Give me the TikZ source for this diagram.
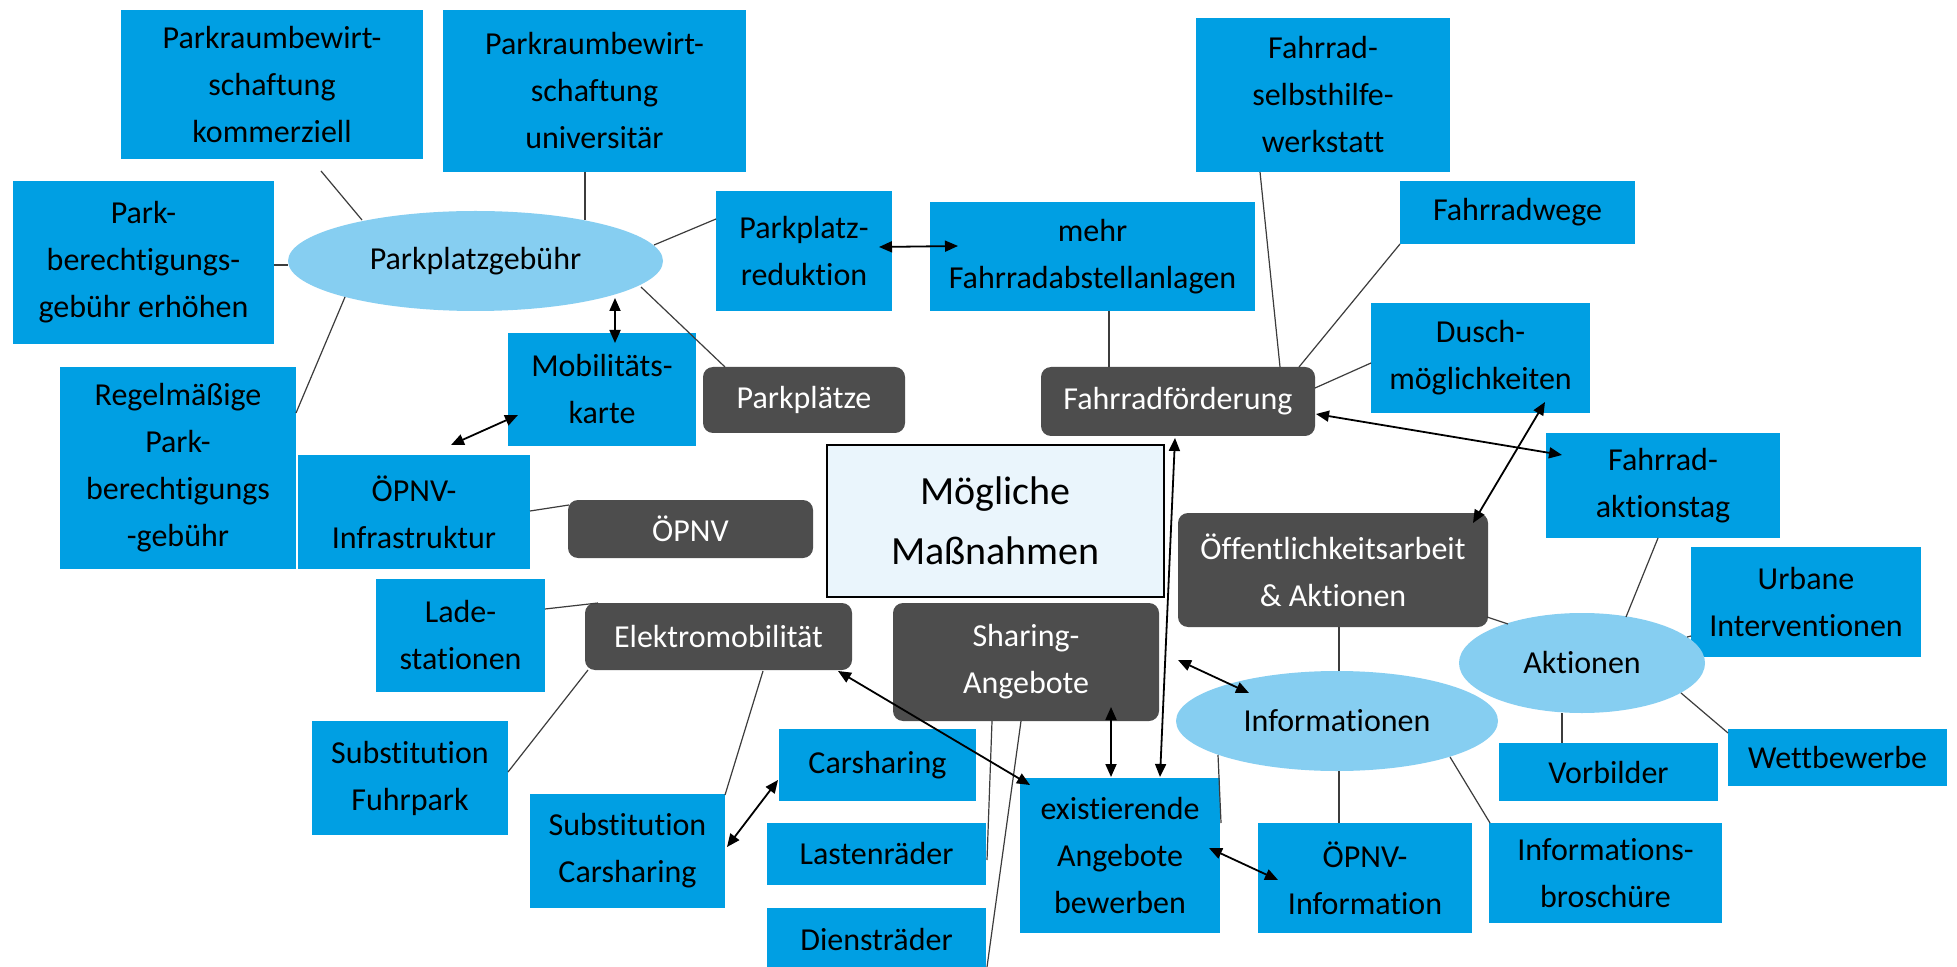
\documentclass[tikz,border=0pt]{standalone}
\usepackage{fontspec}
\setmainfont[Ligatures={NoCommon}]{Carlito}
\usetikzlibrary{shapes.geometric,arrows.meta}
\definecolor{bblue}{RGB}{0,159,227}
\definecolor{dgray}{RGB}{77,77,77}
\definecolor{lblue}{RGB}{134,206,241}
\definecolor{pale}{RGB}{234,245,252}
\definecolor{lgray}{RGB}{60,60,60}
\tikzset{
  x=0.5pt,y=-0.5pt,
  txt/.style={align=center,font=\fontsize{16}{23.5}\selectfont,inner sep=0pt},
  bbox/.style={txt,rectangle,fill=bblue,text=black},
  dbox/.style={txt,rectangle,rounded corners=5pt,fill=dgray,text=white},
  ell/.style={txt,ellipse,fill=lblue,text=black},
  mbox/.style={txt,rectangle,fill=pale,draw=black,line width=0.8pt,font=\fontsize{20}{30}\selectfont},
  sz/.style 2 args={minimum width=#1pt,minimum height=#2pt},
  conn/.style={draw=lgray,line width=0.6pt},
  biarrow/.style={draw=black,line width=0.9pt,{Triangle[length=6.5pt,width=5.5pt]}-{Triangle[length=6.5pt,width=5.5pt]}}
}
\begin{document}
\begin{tikzpicture}
\useasboundingbox (0,0) rectangle (1957,967);
\fill[white] (0,0) rectangle (1957,967);
% blue boxes
\node[bbox,sz={151}{74.5}] (kom) at (272,84.5) {Parkraumbewirt-\\schaftung\\kommerziell};
\node[bbox,sz={151.5}{81}] (uni) at (594.5,91) {Parkraumbewirt-\\schaftung\\universitär};
\node[bbox,sz={130.5}{81.5}] (perh) at (143.5,262.5) {Park-\\berechtigungs-\\gebühr erhöhen};
\node[bbox,sz={118}{101}] (regel) at (178,468) {Regelmäßige\\Park-\\berechtigungs\\-gebühr};
\node[bbox,sz={94}{56.5}] (mob) at (602,389.5) {Mobilitäts-\\karte};
\node[bbox,sz={116}{57}] (oinf) at (414,512) {ÖPNV-\\Infrastruktur};
\node[bbox,sz={88}{60}] (pred) at (804,251) {Parkplatz-\\reduktion};
\node[bbox,sz={162.5}{54.5}] (mehr) at (1092.5,256.5) {mehr\\Fahrradabstellanlagen};
\node[bbox,sz={127}{77}] (werk) at (1323,95) {Fahrrad-\\selbsthilfe-\\werkstatt};
\node[bbox,sz={117.5}{31.5}] (fwege) at (1517.5,212.5) {Fahrradwege};
\node[bbox,sz={109.5}{55}] (dusch) at (1480.5,358) {Dusch-\\möglichkeiten};
\node[bbox,sz={117}{52.5}] (atag) at (1663,485.5) {Fahrrad-\\aktionstag};
\node[bbox,sz={115}{55}] (urb) at (1806,602) {Urbane\\Interventionen};
\node[bbox,sz={109.5}{29}] (vorb) at (1608.5,772) {Vorbilder};
\node[bbox,sz={109.5}{28.5}] (wett) at (1837.5,757.5) {Wettbewerbe};
\node[bbox,sz={107}{55}] (oinfo) at (1365,878) {ÖPNV-\\Information};
\node[bbox,sz={116.5}{50}] (brosch) at (1605.5,873) {Informations-\\broschüre};
\node[bbox,sz={100}{77.5}] (exist) at (1120,855.5) {existierende\\Angebote\\bewerben};
\node[bbox,sz={84.5}{56.5}] (lade) at (460.5,635.5) {Lade-\\stationen};
\node[bbox,sz={98}{57}] (fuhr) at (410,778) {Substitution\\Fuhrpark};
\node[bbox,sz={97.5}{57}] (subcar) at (627.5,851) {Substitution\\Carsharing};
\node[bbox,sz={98.5}{36}] (car) at (877.5,765) {Carsharing};
\node[bbox,sz={109.5}{31}] (lasten) at (876.5,854) {Lastenräder};
\node[bbox,sz={109.5}{31}] (dienst) at (876.5,939) {Diensträder};
% dark boxes
\node[dbox,sz={101}{33}] (ppl) at (804,400) {Parkplätze};
\node[dbox,sz={137}{34.5}] (ff) at (1178,401.5) {Fahrradförderung};
\node[dbox,sz={122.5}{29}] (opnv) at (690.5,529) {ÖPNV};
\node[dbox,sz={133.5}{33.5}] (elek) at (718.5,636.5) {Elektromobilität};
\node[dbox,sz={133}{59}] (share) at (1026,662) {Sharing-\\Angebote};
\node[dbox,sz={155}{57}] (oeff) at (1333,570) {Öffentlichkeitsarbeit\\\& Aktionen};
% centre
\node[mbox,sz={168.5}{76}] (mog) at (995.5,521) {Mögliche\\Maßnahmen};
% ellipses
\node[ell,sz={187.5}{50}] (pg) at (475.5,261) {Parkplatzgebühr};
\node[ell,sz={123}{50}] (akt) at (1582,663) {Aktionen};
\node[ell,sz={161}{50}] (info) at (1337,721) {Informationen};
% plain connectors
\draw[conn] ([shift={(49,86.5)}]kom.center) -- ([shift={(-113.5,-41)}]pg.center);
\draw[conn] ([shift={(-9.5,81)}]uni.center) -- ([shift={(109.5,-41)}]pg.center);
\draw[conn] ([shift={(130.5,2.5)}]perh.center) -- ([shift={(-187.5,4)}]pg.center);
\draw[conn] ([shift={(118,-55)}]regel.center) -- ([shift={(-130.5,36)}]pg.center);
\draw[conn] ([shift={(178.5,-16)}]pg.center) -- ([shift={(-88,-32)}]pred.center);
\draw[conn] ([shift={(165.5,26)}]pg.center) -- ([shift={(-79,-33)}]ppl.center);
\draw[conn] ([shift={(116,-1)}]oinf.center) -- ([shift={(-121.5,-24)}]opnv.center);
\draw[conn] ([shift={(16.5,54.5)}]mehr.center) -- ([shift={(-69,-34.5)}]ff.center);
\draw[conn] ([shift={(-63,77)}]werk.center) -- ([shift={(102,-34.5)}]ff.center);
\draw[conn] ([shift={(-117.5,31.5)}]fwege.center) -- ([shift={(121,-34.5)}]ff.center);
\draw[conn] ([shift={(137,-13.5)}]ff.center) -- ([shift={(-109.5,5)}]dusch.center);
\draw[conn] ([shift={(154,47)}]oeff.center) -- ([shift={(-74,-39)}]akt.center);
\draw[conn] ([shift={(-5,52.5)}]atag.center) -- ([shift={(44,-46)}]akt.center);
\draw[conn] ([shift={(105,-26)}]akt.center) -- ([shift={(-115,34)}]urb.center);
\draw[conn] ([shift={(-20,50)}]akt.center) -- ([shift={(-46.5,-29)}]vorb.center);
\draw[conn] ([shift={(99,30)}]akt.center) -- ([shift={(-109.5,-24.5)}]wett.center);
\draw[conn] ([shift={(6,57)}]oeff.center) -- ([shift={(2,-50)}]info.center);
\draw[conn] ([shift={(2,50)}]info.center) -- ([shift={(-26,-55)}]oinfo.center);
\draw[conn] ([shift={(113,36)}]info.center) -- ([shift={(-115.5,-50)}]brosch.center);
\draw[conn] ([shift={(-119,34)}]info.center) -- ([shift={(101,-32.5)}]exist.center);
\draw[conn] ([shift={(84.5,-26.5)}]lade.center) -- ([shift={(-120.5,-33.5)}]elek.center);
\draw[conn] ([shift={(-130.5,33.5)}]elek.center) -- ([shift={(98,-6)}]fuhr.center);
\draw[conn] ([shift={(44.5,34.5)}]elek.center) -- ([shift={(97.5,-56)}]subcar.center);
\draw[conn] ([shift={(-34,59)}]share.center) -- ([shift={(110.5,6)}]lasten.center);
\draw[conn] ([shift={(-5,59)}]share.center) -- ([shift={(110.5,28)}]dienst.center);
% double arrows
\draw[biarrow] ([shift={(139.5,37)}]pg.center) -- ([shift={(13,-46.5)}]mob.center);
\draw[biarrow] ([shift={(-84,25.5)}]mob.center) -- ([shift={(37,-67)}]oinf.center);
\draw[biarrow] ([shift={(75,-4)}]pred.center) -- ([shift={(-134.5,-10.5)}]mehr.center);
\draw[biarrow] ([shift={(138,12.5)}]ff.center) -- ([shift={(-101,-30.5)}]atag.center);
\draw[biarrow] ([shift={(64.5,44)}]dusch.center) -- ([shift={(140,-47)}]oeff.center);
\draw[biarrow] ([shift={(40,-78.5)}]exist.center) -- ([shift={(-3,36.5)}]ff.center);
\draw[biarrow] ([shift={(85,45)}]share.center) -- ([shift={(-9,-78.5)}]exist.center);
\draw[biarrow] ([shift={(152,-2)}]share.center) -- ([shift={(-88,-28)}]info.center);
\draw[biarrow] ([shift={(119.5,34.5)}]elek.center) -- ([shift={(-90,-70.5)}]exist.center);
\draw[biarrow] ([shift={(99.5,-4)}]subcar.center) -- ([shift={(-99.5,15)}]car.center);
\draw[biarrow] ([shift={(89,-7.5)}]exist.center) -- ([shift={(-87,2)}]oinfo.center);
\end{tikzpicture}
\end{document}
